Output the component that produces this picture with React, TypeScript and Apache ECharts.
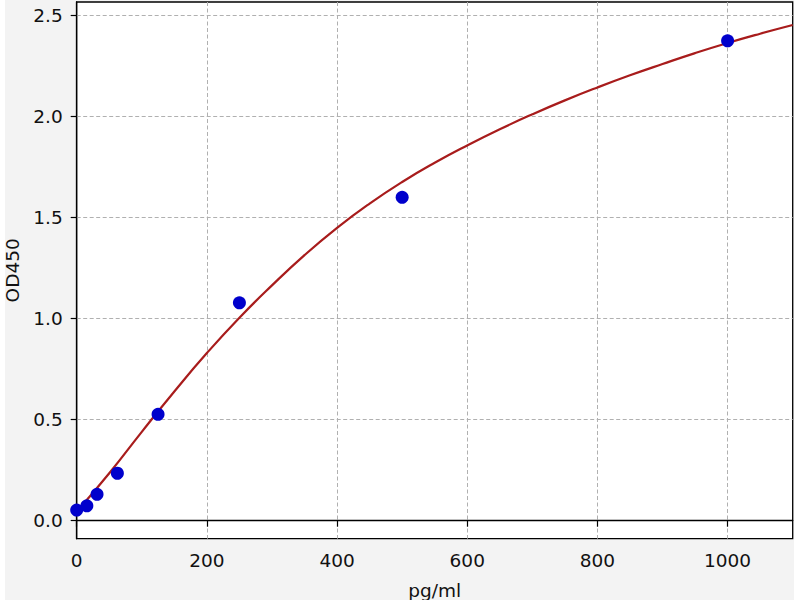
import * as echarts from 'echarts';
import { useEffect, useRef } from 'react';

// standards (pg/ml) and measured OD450
const concentrations = [0, 15.6, 31.25, 62.5, 125, 250, 500, 1000];
const od450 = [0.053, 0.074, 0.131, 0.235, 0.527, 1.079, 1.601, 2.376];

// fitted curve
const curveX = [0, 50, 100, 150, 200, 250, 300, 350, 400, 450, 500, 550, 600, 650, 700, 750, 800, 850, 900, 950, 1000, 1050, 1100];
const curveY = [0.045, 0.235, 0.44, 0.64, 0.83, 1.005, 1.165, 1.315, 1.45, 1.57, 1.677, 1.772, 1.858, 1.938, 2.012, 2.081, 2.145, 2.205, 2.261, 2.315, 2.365, 2.411, 2.454];

const xTicks = [0, 200, 400, 600, 800, 1000];
const yTicks = [0, 0.5, 1, 1.5, 2, 2.5];

const FONT = 'DejaVu Sans';
const FS = 18.5;

export default function App() {
  const ref = useRef<HTMLDivElement | null>(null);

  useEffect(() => {
    document.body.style.margin = '0';
    if (!ref.current) return undefined;
    const chart = echarts.init(ref.current, undefined, { renderer: 'svg' });

    const tickStyle = { show: true, inside: false, length: 6, lineStyle: { color: '#000', width: 1.2 } };
    const gridLine = { show: true, lineStyle: { color: '#b0b0b0', width: 1, type: [4, 2.5] as number[] } };

    chart.setOption({
      animation: false,
      backgroundColor: 'transparent',
      grid: {
        left: 76.7,
        right: 7.3,
        top: 2,
        bottom: 61.3,
        show: true,
        backgroundColor: '#fff',
        borderColor: '#000',
        borderWidth: 1.3,
        containLabel: false,
        outerBoundsMode: 'none',
      },
      xAxis: {
        type: 'value',
        min: 0,
        max: 1100,
        name: 'pg/ml',
        nameLocation: 'middle',
        nameGap: 42,
        nameTextStyle: { fontFamily: FONT, fontSize: FS, color: '#111' },
        axisLine: { show: true, lineStyle: { color: '#000', width: 1.3 } },
        axisTick: { ...tickStyle, customValues: xTicks },
        axisLabel: {
          customValues: xTicks,
          fontFamily: FONT,
          fontSize: FS,
          color: '#111',
          margin: 12,
          formatter: (v: number) => String(v),
        },
        splitLine: gridLine,
      },
      yAxis: {
        type: 'value',
        min: -0.089,
        max: 2.568,
        name: 'OD450',
        nameLocation: 'middle',
        nameGap: 55,
        nameTextStyle: { fontFamily: FONT, fontSize: FS, color: '#111' },
        axisLine: { show: true, lineStyle: { color: '#000', width: 1.3 } },
        axisTick: { ...tickStyle, customValues: yTicks },
        axisLabel: {
          customValues: yTicks,
          fontFamily: FONT,
          fontSize: FS,
          color: '#111',
          margin: 14,
          formatter: (v: number) => v.toFixed(1),
        },
        splitLine: gridLine,
      },
      series: [
        {
          type: 'line',
          name: 'fit',
          data: curveX.map((x, i) => [x, curveY[i]]),
          smooth: 0.5,
          showSymbol: false,
          lineStyle: { color: '#a81c1c', width: 2.2 },
          z: 2,
        },
        {
          type: 'scatter',
          name: 'standards',
          data: concentrations.map((x, i) => [x, od450[i]]),
          symbolSize: 13,
          itemStyle: { color: '#0000cc', opacity: 1 },
          z: 3,
        },
      ],
    });

    return () => chart.dispose();
  }, []);

  return (
    <div
      ref={ref}
      style={{
        width: 800,
        height: 600,
        background: 'linear-gradient(to right, #fff 5px, #f3f3f3 5px, #f3f3f3 794px, #fff 794px)',
      }}
    />
  );
}
